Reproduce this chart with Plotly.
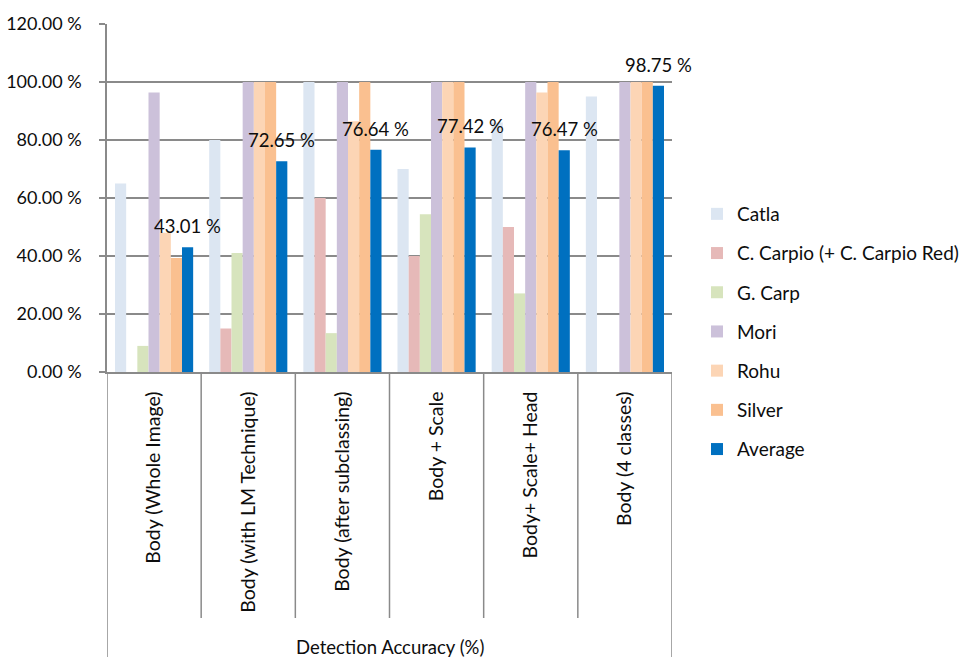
import plotly.graph_objects as go

categories = ["Body (Whole Image)", "Body (with LM Technique)", "Body (after subclassing)",
              "Body + Scale", "Body+ Scale+ Head", "Body (4 classes)"]
series_names = ["Catla", "C. Carpio (+ C. Carpio Red)", "G. Carp", "Mori", "Rohu", "Silver", "Average"]
catla = [65.0, 80.0, 100.0, 70.0, 86.0, 95.0]
c_carpio = [0.0, 15.0, 60.0, 40.0, 50.0, 0.0]
g_carp = [9.0, 41.0, 13.4, 54.4, 27.1, 0.0]
mori = [96.4, 100.0, 100.0, 100.0, 100.0, 100.0]
rohu = [48.0, 100.0, 86.5, 100.0, 96.4, 100.0]
silver = [39.3, 100.0, 100.0, 100.0, 100.0, 100.0]
average = [43.01, 72.65, 76.64, 77.42, 76.47, 98.75]
y_ticks = [0, 20, 40, 60, 80, 100, 120]
y_tick_labels = ["0.00 %", "20.00 %", "40.00 %", "60.00 %", "80.00 %", "100.00 %", "120.00 %"]
group_title = "Detection Accuracy (%)"

colors = ["#dce6f2", "#e6b9b8", "#d7e4bd", "#ccc1da", "#fcd5b5", "#fac090", "#0070c0"]
values = [catla, c_carpio, g_carp, mori, rohu, silver, average]

FONT = "Lato"
TXT = "#0d0d0d"
GRID = "#8a8a8a"
BARGAP = 0.17

fig = go.Figure()
for i, (name, vals, col) in enumerate(zip(series_names, values, colors)):
    fig.add_trace(go.Bar(x=list(range(len(categories))), y=vals, name=name,
                         marker=dict(color=col, line=dict(width=0)),
                         legendgroup=f"g{i}"))

L, R, T, B = 107, 295, 24, 285
plot_h = 657 - T - B
n = len(categories)
nser = len(series_names)

# data labels on the Average bars (position from the group layout)
bar_w = (1 - BARGAP) / nser
avg_offset = (nser - 1) / 2 * bar_w
annotations = []
for i, v in enumerate(average):
    annotations.append(dict(x=i + avg_offset, y=v, xref="x", yref="y",
                            text=f"{v:.2f} %", showarrow=False, yanchor="middle",
                            yshift=21, font=dict(family=FONT, size=18.5, color=TXT)))
annotations.append(dict(x=0.5, y=-(647 - 372) / plot_h, xref="paper", yref="paper",
                        text=group_title, showarrow=False, yanchor="middle",
                        font=dict(family=FONT, size=18.5, color=TXT)))

shapes = []
for k in range(1, n):
    shapes.append(dict(type="line", xref="x", yref="paper", x0=k - 0.5, x1=k - 0.5,
                       y0=0, y1=-(618 - 372) / plot_h, line=dict(color=GRID, width=1.5)))
for xd in (-0.5, n - 0.5):
    shapes.append(dict(type="line", xref="x", yref="paper", x0=xd, x1=xd,
                       y0=0, y1=-(660 - 372) / plot_h, line=dict(color=GRID, width=1.5)))

fig.update_layout(
    width=967, height=657,
    margin=dict(l=L, r=R, t=T, b=B, autoexpand=False),
    paper_bgcolor="white", plot_bgcolor="white",
    barmode="group", bargap=BARGAP, bargroupgap=0,
    font=dict(family=FONT, size=17, color=TXT),
    showlegend=True,
    legend=dict(x=(697 - L) / (967 - L - R), xanchor="left",
                y=(372 - 195) / plot_h, yanchor="top",
                font=dict(family=FONT, size=19, color=TXT),
                tracegroupgap=11.5, traceorder="grouped",
                bgcolor="rgba(0,0,0,0)", itemclick=False),
    shapes=shapes,
    annotations=annotations,
    xaxis=dict(tickmode="array", tickvals=list(range(n)), ticktext=categories,
               range=[-0.5, n - 0.5], tickangle=-90, ticks="", showgrid=False,
               showline=True, linecolor=GRID, linewidth=1.5,
               tickfont=dict(family=FONT, size=19.5, color=TXT),
               ticklabelstandoff=10, automargin=False),
    yaxis=dict(range=[0, 120], tickmode="array", tickvals=y_ticks, ticktext=y_tick_labels,
               showgrid=True, gridcolor=GRID, gridwidth=1.5,
               showline=True, linecolor=GRID, linewidth=1.5,
               ticks="outside", ticklen=6, tickcolor=GRID, tickwidth=1.5,
               tickfont=dict(family=FONT, size=18, color=TXT),
               ticklabelstandoff=14, zeroline=False, automargin=False),
)

fig.write_html("out.html")
